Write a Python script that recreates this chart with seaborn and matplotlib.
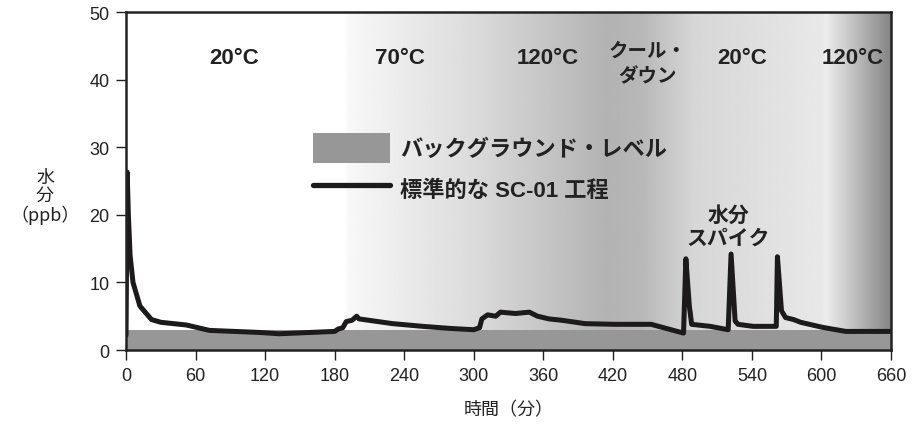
import numpy as np
import matplotlib
matplotlib.use('Agg')
import matplotlib.pyplot as plt
import seaborn as sns
from matplotlib.colors import LinearSegmentedColormap
from matplotlib.patches import Patch
from matplotlib.lines import Line2D

# data
time_min = [0, 1, 2, 3.5, 6, 12, 22, 30, 52, 72, 115, 132, 180, 183, 187,
            190, 195, 199, 201, 230, 256, 279, 300, 305, 307, 312, 319, 323, 336, 348,
            355, 365, 376, 396, 422, 453, 481, 483, 486, 488, 504, 519.5, 522, 525.5, 528,
            541, 561, 562, 565.5, 569, 576, 582, 601, 621, 660]
moisture_ppb = [2.2, 26.3, 20, 14, 10, 6.5, 4.5, 4.1, 3.7, 2.9, 2.6, 2.4, 2.75, 3.1, 3.3,
                4.2, 4.4, 5.0, 4.6, 3.9, 3.5, 3.2, 3.0, 3.3, 4.6, 5.2, 5.0, 5.6, 5.4, 5.6,
                5.0, 4.6, 4.4, 3.9, 3.8, 3.8, 2.5, 13.5, 6.5, 3.8, 3.5, 3.0, 14.2, 4.3, 3.8,
                3.5, 3.5, 13.8, 5.8, 4.8, 4.5, 4.1, 3.35, 2.75, 2.75]
background_level = 3.0

temp_labels = ['20°C', '70°C', '120°C', '20°C', '120°C']
temp_x = [93.5, 236.5, 364, 531.5, 627]
cooldown_label = 'クール・\nダウン'
cooldown_x = 450

x_ticks = [0, 60, 120, 180, 240, 300, 360, 420, 480, 540, 600, 660]
y_ticks = [0, 10, 20, 30, 40, 50]

# background shading along the time axis (position, grey level)
shade_pos = [0, 188, 192, 300, 415, 445, 490, 600, 604, 660]
shade_val = [1.0, 1.0, 0.97, 0.86, 0.70, 0.72, 0.84, 0.91, 0.93, 0.52]

sns.set_style('ticks')
plt.rcParams['font.family'] = ['Liberation Sans', 'Noto Sans CJK JP']
cjk = ['Noto Sans CJK JP', 'DejaVu Sans']
ink = '#222222'

fig = plt.figure(figsize=(9.24, 4.31), dpi=100)
ax = fig.add_axes([0.1364, 0.1856, 0.8279, 0.7842])

xs = np.linspace(0, 660, 1321)
grey = np.interp(xs, shade_pos, shade_val)
cmap = LinearSegmentedColormap.from_list('g', ['black', 'white'])
ax.imshow(grey[np.newaxis, :], extent=[0, 660, 0, 50], aspect='auto', cmap=cmap,
          vmin=0, vmax=1, zorder=0, interpolation='bilinear')

ax.axhspan(0, background_level, color='#979797', lw=0, zorder=1)

sns.lineplot(x=time_min, y=moisture_ppb, ax=ax, color='#1c1a1a', lw=3.6,
             estimator=None, sort=False, zorder=3)
for line in ax.lines:
    line.set_solid_joinstyle('round')

ax.set_xlim(0, 660)
ax.set_ylim(0, 50)
ax.set_xticks(x_ticks)
ax.set_yticks(y_ticks)
ax.set_xticklabels([str(t) for t in x_ticks], fontsize=13)
ax.set_yticklabels([str(t) for t in y_ticks], fontsize=13)
ax.tick_params(axis='both', direction='out', length=7, width=1, color=ink,
               labelcolor=ink, pad=5)
for s in ax.spines.values():
    s.set_linewidth(1.8)
    s.set_color(ink)
    s.set_zorder(5)

ax.set_xlabel('時間（分）', fontfamily=cjk, fontsize=13, color=ink, labelpad=12)
fig.text(0.0487, 0.543, '水\n分\n（ppb）', ha='center', va='center', fontfamily=cjk,
         fontsize=13, color=ink, linespacing=1.0)

for lab, px in zip(temp_labels, temp_x):
    ax.text(px, 42.5, lab, ha='center', va='baseline', fontweight='bold',
            fontsize=16, color=ink)
ax.text(cooldown_x, 45.7, cooldown_label, ha='center', va='top', fontfamily=cjk,
        fontweight='bold', fontsize=14, color=ink, linespacing=1.45)

ax.text(519.5, 15.2, '水分\nスパイク', ha='center', va='bottom', fontfamily=cjk,
        fontweight='bold', fontsize=15, color=ink, linespacing=1.1)

handles = [Patch(facecolor='#979797', edgecolor='none'),
           Line2D([0], [0], color='#1c1a1a', lw=3.8)]
leg = ax.legend(handles, ['バックグラウンド・レベル', '標準的な SC-01 工程'],
                loc='upper left', bbox_to_anchor=(0.2295, 0.676), frameon=False,
                borderpad=0, handlelength=3.5, handleheight=1.7, handletextpad=0.45,
                labelspacing=0.52, prop={'family': ['Liberation Sans', 'Noto Sans CJK JP'],
                                         'weight': 'bold', 'size': 16})
for t in leg.get_texts():
    t.set_color(ink)

fig.savefig('out.png', dpi=100)
